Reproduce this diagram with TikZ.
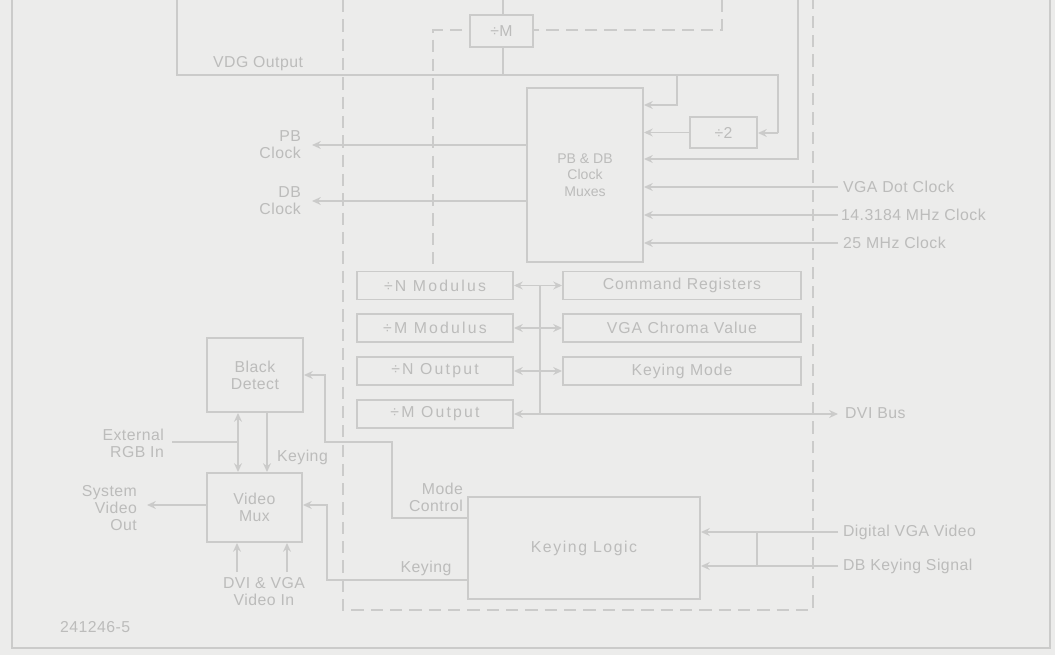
\documentclass[tikz,border=0pt]{standalone}
\usepackage{fontspec}
\setmainfont{Liberation Sans}
\usetikzlibrary{arrows.meta}
\definecolor{bg}{RGB}{236,236,235}
\definecolor{linec}{RGB}{203,203,202}
\definecolor{txtc}{RGB}{188,188,187}
\newcommand{\lbl}{\fontsize{9}{9.6}\selectfont\addfontfeature{LetterSpace=3}}
\newcommand{\wide}[1]{\addfontfeature{LetterSpace=#1}}
\tikzset{
  x=0.02cm, y=-0.02cm,
  wire/.style={draw=linec, line width=1.1pt},
  arr/.style={wire, -{Stealth[length=5pt,width=4.5pt]}},
  darr/.style={wire, {Stealth[length=5pt,width=4.5pt]}-{Stealth[length=5pt,width=4.5pt]}},
  bound/.style={draw=linec, line width=1.6pt, dash pattern=on 7pt off 4pt},
  box/.style={draw=linec, fill=bg, line width=1.1pt, inner sep=0pt, align=center, text=txtc, font=\lbl},
  txt/.style={text=txtc, font=\lbl, inner sep=1pt, align=center},
  frame/.style={draw=linec, line width=0.8pt}
}
\begin{document}
\begin{tikzpicture}
\fill[bg] (0,0) rectangle (1055,655);
\useasboundingbox (0,0) rectangle (1055,655);
% outer frame
\draw[frame] (12,0) -- (12,648) -- (1050,648) -- (1050,0);
% dashed boundaries
\draw[bound] (343,0) -- (343,610) -- (813,610) -- (813,0);
\draw[bound] (722,0) -- (722,30) -- (433,30) -- (433,265);

% boxes
\node[box, minimum width=1.26cm, minimum height=0.64cm] (divM) at (501.5,31) {\textdiv M};
\node[box, minimum width=1.34cm, minimum height=0.62cm] (div2) at (723.5,132.5) {\textdiv 2};
\node[box, minimum width=2.32cm, minimum height=3.48cm, font=\fontsize{8}{9.4}\selectfont] (cmux) at (585,175) {PB \& DB\\Clock\\Muxes};

\node[box, minimum width=3.12cm, minimum height=0.56cm] (nmod) at (435,285.5) {\wide{14}\textdiv N Modulus};
\node[box, minimum width=3.12cm, minimum height=0.56cm] (mmod) at (435,328) {\wide{14}\textdiv M Modulus};
\node[box, minimum width=3.12cm, minimum height=0.56cm] (nout) at (435,371) {\wide{14}\textdiv N Output};
\node[box, minimum width=3.12cm, minimum height=0.56cm] (mout) at (435,414) {\wide{14}\textdiv M Output};
\node[box, minimum width=4.76cm, minimum height=0.56cm] (cmd) at (682,285.5) {\wide{6}Command Registers};
\node[box, minimum width=4.76cm, minimum height=0.56cm] (chroma) at (682,328) {\wide{6}VGA Chroma Value};
\node[box, minimum width=4.76cm, minimum height=0.56cm] (kmode) at (682,371) {\wide{6}Keying Mode};

\node[box, minimum width=1.92cm, minimum height=1.48cm] (black) at (255,375) {Black\\Detect};
\node[box, minimum width=1.90cm, minimum height=1.38cm] (vmux) at (254.5,507.5) {Video\\Mux};
\node[box, minimum width=4.64cm, minimum height=2.04cm] (klogic) at (584,548) {\wide{10}Keying Logic};

% top wiring
\coordinate (vdgtop) at (177,0);
\coordinate (mtop) at (503,0);
\coordinate (rtop) at (798,0);
\draw[wire] (vdgtop) -- (177,75) -- (778,75) -- (778,133);
\draw[arr] (778,133) -- (div2.east |- 778,133);
\draw[arr] (677,75) -- (677,105) -- (cmux.east |- 677,105);
\draw[arr] (div2.west) -- (cmux.east |- div2.west);
\draw[arr] (rtop) -- (798,159) -- (cmux.east |- 798,159);
\draw[wire] (mtop) -- (divM.north -| mtop);
\draw[wire] (divM.south -| 503,0) -- (503,75);
\node[txt, anchor=south west] (vdgl) at (211,73) {VDG Output};

% clock outputs
\coordinate (pbend) at (312,145);
\coordinate (dbend) at (312,201);
\draw[arr] (cmux.west |- pbend) -- (pbend);
\draw[arr] (cmux.west |- dbend) -- (dbend);
\node[txt, anchor=east, align=right] (pbl) at (303,145) {PB\\Clock};
\node[txt, anchor=east, align=right] (dbl) at (303,201) {DB\\Clock};

% clock inputs
\coordinate (vgain) at (838,187);
\coordinate (c14in) at (838,215);
\coordinate (c25in) at (838,243);
\draw[arr] (vgain) -- (cmux.east |- vgain);
\draw[arr] (c14in) -- (cmux.east |- c14in);
\draw[arr] (c25in) -- (cmux.east |- c25in);
\node[txt, anchor=west] (vgal) at (841,187) {VGA Dot Clock};
\node[txt, anchor=west] (c14l) at (839,215) {14.3184 MHz Clock};
\node[txt, anchor=west] (c25l) at (841,243) {25 MHz Clock};

% register bus
\coordinate (dviend) at (838,414);
\draw[wire] (540,285.5) -- (540,414);
\draw[darr] (nmod.east) -- (cmd.west);
\draw[darr] (mmod.east) -- (chroma.west);
\draw[darr] (nout.east) -- (kmode.west);
\draw[darr] (mout.east) -- (dviend);
\node[txt, anchor=west] (dvil) at (843,413) {DVI Bus};

% mode control
\draw[arr] (klogic.west |- 0,518) -- (392,518) -- (392,442) -- (325,442) -- (325,375) -- (black.east |- 0,375);
\node[txt, anchor=east, align=right] (mcl) at (465,497) {Mode\\Control};

% keying to video mux
\draw[arr] (klogic.west |- 0,580) -- (327,580) -- (327,505) -- (vmux.east |- 0,505);
\node[txt, anchor=south] (kl2) at (426,578) {Keying};

% external RGB
\coordinate (extin) at (172,442);
\draw[wire] (extin) -- (238,442);
\draw[arr] (238,442) -- (black.south -| 238,0);
\draw[arr] (238,442) -- (vmux.north -| 238,0);
\node[txt, anchor=east, align=right] (extl) at (166,443) {External\\RGB In};
\draw[arr] (black.south -| 267,0) -- (vmux.north -| 267,0);
\node[txt, anchor=west] (kl1) at (275,457) {Keying};

% video out
\coordinate (sysout) at (147,505);
\draw[arr] (vmux.west |- sysout) -- (sysout);
\node[txt, anchor=east, align=right] (sysl) at (139,508) {System\\Video\\Out};

% video in
\coordinate (vin1) at (237,572);
\coordinate (vin2) at (287,572);
\draw[arr] (vin1) -- (vmux.south -| vin1);
\draw[arr] (vin2) -- (vmux.south -| vin2);
\node[txt, anchor=north] (vinl) at (264,575) {DVI \& VGA\\Video In};

% keying logic inputs
\coordinate (dvgain) at (838,532);
\coordinate (dbkin) at (838,566);
\draw[arr] (dvgain) -- (klogic.east |- dvgain);
\draw[arr] (dbkin) -- (klogic.east |- dbkin);
\draw[wire] (757,532) -- (757,566);
\node[txt, anchor=west] (dvgal) at (841,532) {Digital VGA Video};
\node[txt, anchor=west] (dbkl) at (841,566) {DB Keying Signal};

% figure number
\node[txt, anchor=west] (fig) at (58,627) {241246-5};
\end{tikzpicture}
\end{document}
